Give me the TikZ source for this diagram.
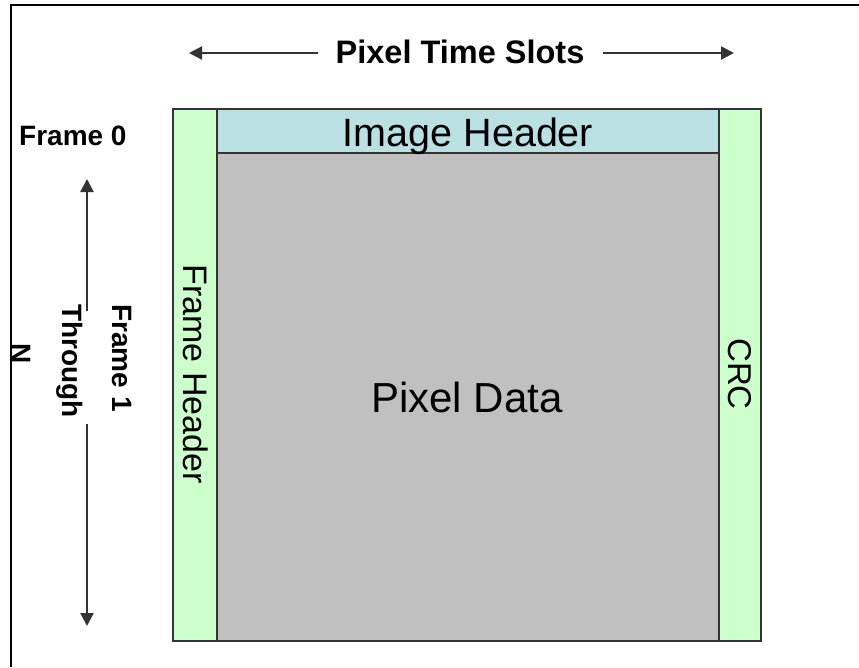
\documentclass[tikz,border=0pt]{standalone}
\usepackage{fontspec}
\setmainfont{Liberation Sans}
\usetikzlibrary{arrows.meta}
\definecolor{fhgreen}{HTML}{CCFFCC}
\definecolor{ihblue}{HTML}{BBE0E3}
\definecolor{pdgray}{HTML}{C0C0C0}
\definecolor{edgegray}{HTML}{333333}
\begin{document}
\begin{tikzpicture}[x=1pt,y=-1pt,
  box/.style={draw=edgegray, line width=2.5pt},
  arr/.style={draw=edgegray, line width=2.2pt, -{Triangle[length=13pt,width=13pt]}},
  lbl/.style={inner sep=0pt, anchor=base, text=black}]
\useasboundingbox (0,0) rectangle (859,667);
% frame of the page
\draw[black, line width=1.2pt] (11,667) -- (11,5) -- (859,5);
% areas
\fill[pdgray] (217,153) rectangle (719,641);
\fill[ihblue] (217,109) rectangle (719,153);
\fill[fhgreen] (173,109) rectangle (217,641);
\fill[fhgreen] (719,109) rectangle (761,641);
\draw[box] (173,109) rectangle (761,641);
\draw[box] (217,109) -- (217,641);
\draw[box] (719,109) -- (719,641);
\draw[box] (217,153) -- (719,153);
% texts
\node[lbl, font=\fontsize{32.5}{38}\selectfont\bfseries] (slots) at (460,63) {Pixel Time Slots};
\node[lbl, anchor=base west, font=\fontsize{28}{32}\selectfont\bfseries] (f0) at (19,145) {Frame 0};
\node[lbl, font=\fontsize{39.5}{44}\selectfont] (ih) at (468,146) {Image Header};
\node[lbl, font=\fontsize{42}{48}\selectfont] (pd) at (467,412) {Pixel Data};
\node[lbl, rotate=-90, font=\fontsize{34}{40}\selectfont] (fh) at (183,374) {Frame Header};
\node[lbl, rotate=-90, font=\fontsize{33}{40}\selectfont] (crc) at (728,374) {CRC};
\node[lbl, rotate=-90, font=\fontsize{28}{34}\selectfont\bfseries] (f1) at (112,358) {Frame 1};
\node[lbl, rotate=-90, font=\fontsize{28}{34}\selectfont\bfseries] (thr) at (62,361) {Through};
\node[lbl, rotate=-90, font=\fontsize{28}{34}\selectfont\bfseries] (fn) at (12,354) {N};
% arrows
\coordinate (hl) at (318,53);
\coordinate (hltip) at (189,53);
\coordinate (hr) at (603,53);
\coordinate (hrtip) at (734,53);
\coordinate (vt) at (87,311);
\coordinate (vttip) at (87,179);
\coordinate (vb) at (87,424);
\coordinate (vbtip) at (87,626);
\draw[arr] (hl) -- (hltip);
\draw[arr] (hr) -- (hrtip);
\draw[arr] (vt) -- (vttip);
\draw[arr] (vb) -- (vbtip);
\end{tikzpicture}
\end{document}
